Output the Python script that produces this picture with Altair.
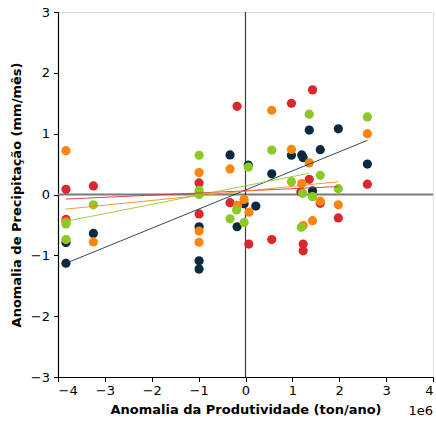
import altair as alt
import pandas as pd

# Productivity anomaly (x, in units of 1e6 ton/ano) vs precipitation anomaly (y, mm/mês)
navy_x = [-3.83, -3.83, -3.245, -0.99, -0.99, -0.99, -0.33, -0.18, -0.03, 0.06,
          0.22, 0.56, 0.98, 1.20, 1.23, 1.36, 1.43, 1.595, 1.98, 2.60]
navy_y = [-0.79, -1.13, -0.64, -0.53, -1.09, -1.225, 0.65, -0.53, -0.15, 0.485,
          -0.19, 0.34, 0.645, 0.65, 0.605, 1.06, 0.06, 0.737, 1.08, 0.50]

red_x = [-3.83, -3.83, -3.245, -0.99, -0.99, -0.33, -0.18, 0.07, 0.56, 0.98,
         1.18, 1.23, 1.23, 1.36, 1.43, 1.595, 1.98, 2.60]
red_y = [0.085, -0.41, 0.14, 0.19, -0.32, -0.135, 1.45, -0.815, -0.74, 1.50,
         0.04, -0.815, -0.925, 0.25, 1.72, -0.145, -0.385, 0.17]

orange_x = [-3.83, -3.83, -3.245, -0.99, -0.99, -0.99, -0.33, -0.17, -0.03, 0.075,
            0.56, 0.98, 1.20, 1.23, 1.36, 1.43, 1.595, 1.98, 2.60]
orange_y = [0.72, -0.45, -0.78, 0.36, -0.60, -0.785, 0.42, -0.18, -0.08, -0.29,
            1.385, 0.74, 0.18, -0.51, 0.52, -0.43, -0.11, -0.17, 1.00]

green_x = [-3.83, -3.83, -3.245, -0.99, -0.99, -0.99, -0.33, -0.19, -0.03, 0.06,
           0.56, 0.98, 1.19, 1.22, 1.36, 1.43, 1.595, 1.98, 2.60]
green_y = [-0.485, -0.74, -0.17, 0.645, 0.07, 0.0, -0.40, -0.255, -0.46, 0.45,
           0.73, 0.21, -0.54, 0.02, 1.32, -0.035, 0.315, 0.095, 1.275]

series_names = ["navy", "red", "orange", "green"]
series_colors = ["#0a2a3f", "#d8282d", "#fb850d", "#8ac926"]

# Linear trend of each series, start and end
trend_x_start = [-3.83, -3.83, -3.83, -3.83]
trend_y_start = [-1.13, -0.075, -0.24, -0.44]
trend_x_end = [2.60, 1.98, 1.98, 1.36]
trend_y_end = [0.89, 0.13, 0.21, 0.35]

xs = [navy_x, red_x, orange_x, green_x]
ys = [navy_y, red_y, orange_y, green_y]
points = pd.concat(
    [pd.DataFrame({"x": x, "y": y, "s": name}) for name, x, y in zip(series_names, xs, ys)],
    ignore_index=True,
)
points["k"] = range(len(points))

trends = pd.DataFrame({
    "s": series_names,
    "x0": trend_x_start, "y0": trend_y_start,
    "x1": trend_x_end, "y1": trend_y_end,
})

FONT = "DejaVu Sans"
FS = 13
MINUS = "replace(datum.label, '-', '\u2212')"

color = alt.Color("s:N", scale=alt.Scale(domain=series_names, range=series_colors), legend=None)
xscale = alt.Scale(domain=[-4, 4], nice=False, zero=False)
yscale = alt.Scale(domain=[-3, 3], nice=False, zero=False)

axis_style = dict(
    grid=False, tickSize=4.5, labelExpr=MINUS,
    labelFont=FONT, titleFont=FONT, labelFontSize=FS, titleFontSize=FS,
    labelColor="black", titleColor="black", tickColor="black", domainColor="black",
    titleFontWeight="bold", domainWidth=1.2, tickWidth=1,
)
x_axis = alt.Axis(values=list(range(-4, 5)), title="Anomalia da Produtividade (ton/ano)",
                  labelPadding=3, titlePadding=6, **axis_style)
y_axis = alt.Axis(values=list(range(-3, 4)), title="Anomalia de Precipitação (mm/mês)",
                  labelPadding=4, titlePadding=7, **axis_style)

zero = pd.DataFrame({"v": [0]})
hline = alt.Chart(zero).mark_rule(color="#7a7a7a", strokeWidth=2).encode(
    y=alt.Y("v:Q", scale=yscale, axis=y_axis))
vline = alt.Chart(zero).mark_rule(color="#3a3a3a", strokeWidth=1.2).encode(
    x=alt.X("v:Q", scale=xscale, axis=x_axis))

dots = alt.Chart(points).mark_circle(size=85, opacity=1).encode(
    x=alt.X("x:Q", scale=xscale, axis=x_axis),
    y=alt.Y("y:Q", scale=yscale, axis=y_axis),
    color=color,
    order=alt.Order("k:Q"),
)

lines = alt.Chart(trends).mark_rule(strokeWidth=1, opacity=0.85).encode(
    x=alt.X("x0:Q", scale=xscale, axis=x_axis),
    y=alt.Y("y0:Q", scale=yscale, axis=y_axis),
    x2="x1:Q", y2="y1:Q",
    color=color,
)

offset_label = alt.Chart(pd.DataFrame({"t": ["1e6"]})).mark_text(
    align="right", baseline="middle", font=FONT, fontSize=FS, color="black"
).encode(x=alt.value(375), y=alt.value(399), text="t:N")

chart = alt.layer(hline, vline, dots, lines, offset_label).properties(
    width=375, height=365,
    autosize=alt.AutoSizeParams(type="none"),
    padding={"left": 58, "top": 12, "right": 3, "bottom": 46},
).configure_view(
    stroke="black", strokeWidth=1.2
).configure(background="white", font=FONT)

chart.save("out.html", embed_options={"renderer": "svg", "actions": False})
